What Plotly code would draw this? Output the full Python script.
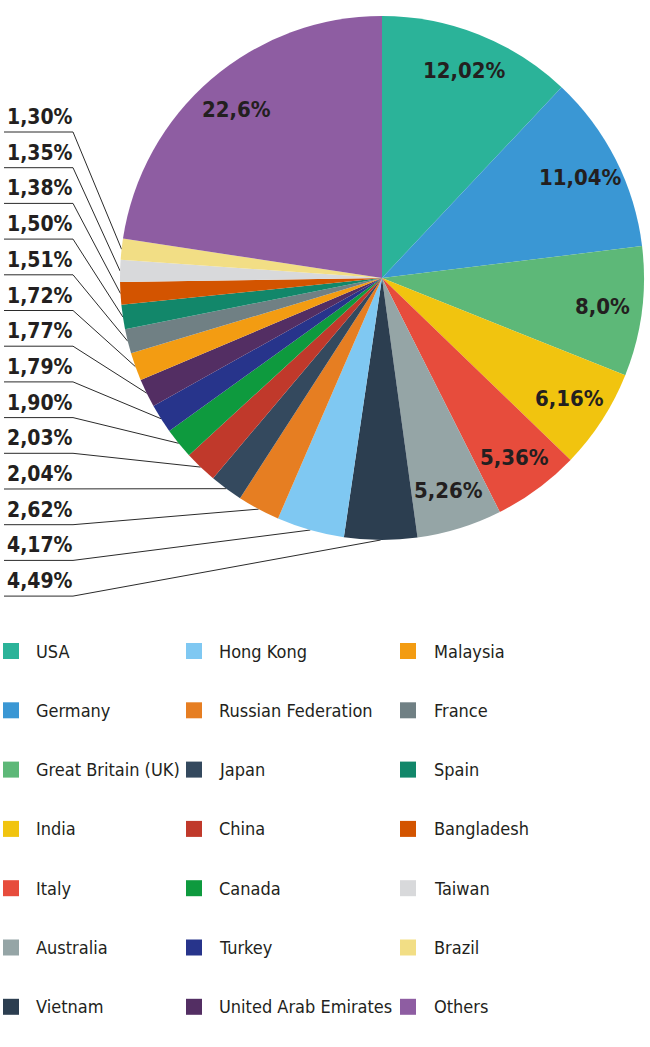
import math
import plotly.graph_objects as go

# ---------------- data ----------------
countries = ["USA", "Germany", "Great Britain (UK)", "India", "Italy", "Australia",
             "Vietnam", "Hong Kong", "Russian Federation", "Japan", "China", "Canada",
             "Turkey", "United Arab Emirates", "Malaysia", "France", "Spain",
             "Bangladesh", "Taiwan", "Brazil", "Others"]
shares = [12.02, 11.04, 8.0, 6.16, 5.36, 5.26, 4.49, 4.17, 2.62, 2.04, 2.03, 1.90,
          1.79, 1.77, 1.72, 1.51, 1.50, 1.38, 1.35, 1.30, 22.6]
share_labels = ["12,02%", "11,04%", "8,0%", "6,16%", "5,36%", "5,26%", "4,49%",
                "4,17%", "2,62%", "2,04%", "2,03%", "1,90%", "1,79%", "1,77%",
                "1,72%", "1,51%", "1,50%", "1,38%", "1,35%", "1,30%", "22,6%"]
colors = ["#2BB399", "#3A97D4", "#5DB878", "#F1C40F", "#E74C3C", "#95A5A6",
          "#2C3E50", "#7FC8F2", "#E67E22", "#34495E", "#C0392B", "#0E9A3E",
          "#27348B", "#532E63", "#F39C12", "#708084", "#12876A", "#D35400",
          "#D8D9DB", "#F2DE85", "#8E5DA2"]
label_inside = [True] * 6 + [False] * 14 + [True]

# ---------------- layout constants ----------------
W, H = 650, 1047
CX, CY, R = 382, 278, 262
INSIDE_R = 0.85
TXT = "#231F20"
FONT = "DejaVu Sans Condensed, Liberation Sans, sans-serif"
PCT_SIZE = 21
LEG_SIZE = 18

LBL_X = 5
UL_X0, UL_X1 = 4, 73
UL_Y0, UL_DY = 132, 35.7

LEG_SQ_X = [3, 186, 400]
LEG_TX_X = [34, 217, 432]
LEG_Y0, LEG_DY = 651, 59.3

fig = go.Figure()

fig.add_trace(go.Pie(
    labels=countries, values=shares, sort=False, direction="clockwise",
    rotation=0, marker=dict(colors=colors, line=dict(width=0)),
    textinfo="none", hoverinfo="label+percent", showlegend=False,
    domain=dict(x=[(CX - R) / W, (CX + R) / W],
                y=[1 - (CY + R) / H, 1 - (CY - R) / H]),
))

total = sum(shares)
mids = []
acc = 0.0
for v in shares:
    mids.append((acc + v / 2) / total)
    acc += v

def polar(frac, r):
    th = 2 * math.pi * frac
    return CX + r * math.sin(th), CY - r * math.cos(th)

annotations = []
# labels inside the big slices
for i, lab in enumerate(share_labels):
    if label_inside[i]:
        x, y = polar(mids[i], R * INSIDE_R)
        annotations.append(dict(x=x, y=y, xref="x", yref="y", text=lab,
                                showarrow=False, xanchor="center", yanchor="middle",
                                font=dict(family=FONT, size=PCT_SIZE + 1, color=TXT,
                                          weight="bold")))

# labels of the small slices, stacked on the left with leader lines
outside = [i for i in range(len(shares)) if not label_inside[i]][::-1]
lx, ly = [], []
for k, i in enumerate(outside):
    yu = UL_Y0 + k * UL_DY
    ex, ey = polar(mids[i], R)
    lx += [UL_X0, UL_X1, ex, None]
    ly += [yu, yu, ey, None]
    annotations.append(dict(x=LBL_X, y=yu - 1, xref="x", yref="y", text=share_labels[i],
                            showarrow=False, xanchor="left", yanchor="bottom",
                            font=dict(family=FONT, size=PCT_SIZE, color=TXT, weight="bold")))

fig.add_trace(go.Scatter(x=lx, y=ly, mode="lines", line=dict(color="#2b2b2b", width=1),
                         hoverinfo="skip", showlegend=False))

# legend: 3 columns x 7 rows, filled column by column
sx, sy = [], []
for i, name in enumerate(countries):
    c, r = divmod(i, 7)
    y = LEG_Y0 + r * LEG_DY
    sx.append(LEG_SQ_X[c] + 8)
    sy.append(y)
    annotations.append(dict(x=LEG_TX_X[c], y=y, xref="x", yref="y", text=name,
                            showarrow=False, xanchor="left", yanchor="middle",
                            font=dict(family=FONT, size=LEG_SIZE, color=TXT)))
fig.add_trace(go.Scatter(x=sx, y=sy, mode="markers",
                         marker=dict(symbol="square", size=16, color=colors, line=dict(width=0)),
                         hoverinfo="skip", showlegend=False))

fig.update_layout(
    width=W, height=H, margin=dict(l=0, r=0, t=0, b=0),
    paper_bgcolor="white", plot_bgcolor="white",
    xaxis=dict(range=[0, W], visible=False, fixedrange=True, domain=[0, 1]),
    yaxis=dict(range=[H, 0], visible=False, fixedrange=True, domain=[0, 1]),
    annotations=annotations, showlegend=False,
)

fig.write_html("out.html", config={"displayModeBar": False},
               post_script="document.body.style.margin='0px';")
